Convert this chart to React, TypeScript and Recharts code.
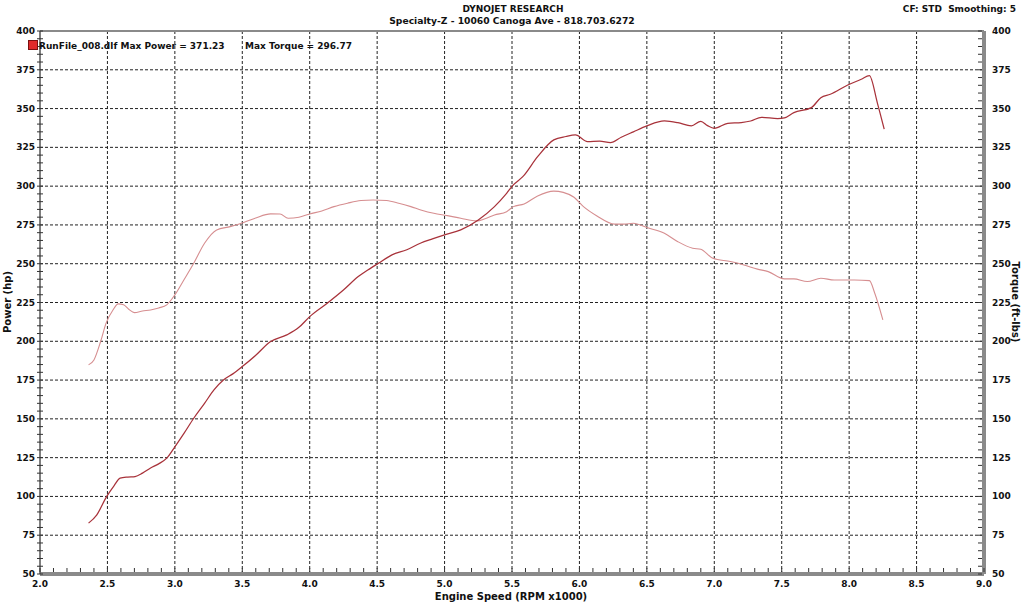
import React from 'react';
import { LineChart, Line, XAxis, YAxis, ReferenceLine } from 'recharts';

const rpmHp = [2.36,2.42,2.495,2.55,2.594,2.65,2.705,2.76,2.817,2.88,2.94,3.0,3.07,3.14,3.22,3.29,3.36,3.43,3.50,3.6,3.71,3.83,3.92,4.0,4.13,4.25,4.36,4.45,4.51,4.61,4.72,4.82,4.91,5.0,5.12,5.25,5.37,5.46,5.51,5.58,5.69,5.81,5.9,5.97,6.06,6.15,6.23,6.31,6.40,6.50,6.63,6.73,6.83,6.90,6.95,7.0,7.10,7.2,7.27,7.35,7.47,7.52,7.59,7.72,7.79,7.86,7.99,8.09,8.15,8.21,8.26];
const hpValues = [82.8,88,100,107,111.8,112.5,112.8,115,118.2,121,124.7,132,141,150.4,160,168.7,175.1,179,183.7,191,199.8,204.1,209,215.9,224.5,233,241.7,247,250.3,255.7,259,263.2,266,268.6,271.8,278.2,286.8,295.4,300.8,306.1,319,329.8,332,333,328.7,329,328,331.5,335,338.8,342,340.9,338.8,341.8,339,337.3,340.5,341,342,344.4,343.5,344,347.4,350.6,357,359.2,365.2,368.9,371.2,353.4,336.7];

const rpmTq = [2.36,2.40,2.45,2.49,2.54,2.58,2.62,2.66,2.70,2.76,2.82,2.88,2.94,3.0,3.07,3.14,3.22,3.31,3.41,3.51,3.6,3.71,3.78,3.84,3.92,4.0,4.09,4.18,4.28,4.38,4.47,4.57,4.66,4.75,4.83,4.92,5.02,5.12,5.24,5.30,5.37,5.46,5.51,5.59,5.69,5.81,5.88,5.96,6.03,6.13,6.26,6.33,6.40,6.50,6.63,6.73,6.84,6.90,6.99,7.12,7.22,7.32,7.40,7.52,7.59,7.69,7.79,7.89,8.04,8.15,8.19,8.25];
const tqValues = [184.8,188,200,211.7,220,224.1,223.5,220.5,218.5,219.5,220.2,221.5,223.5,229.9,240,250.3,263.2,271.8,273.9,276.5,279.5,282.1,282,279.3,280,282.1,284,286.8,289,290.7,291.1,290.7,289,286.8,284.5,282.5,281,279.3,277.6,279,281.4,283.5,286.8,288.5,293.7,296.8,296,292.8,286.8,280.8,275.5,275.5,276.1,273.3,269.6,264.2,260,259.3,253.5,251.4,249.2,246.5,244.9,240.2,240.2,238.5,240.6,239.5,239.5,239.1,231,213.8];

const xMinorTicks = Array.from({ length: 71 }, (_, i) => Math.round((2 + i * 0.1) * 10) / 10);
const xGridValues = [2.5, 3.0, 3.5, 4.0, 4.5, 5.0, 5.5, 6.0, 6.5, 7.0, 7.5, 8.0, 8.5];
const yMinorTicks = Array.from({ length: 71 }, (_, i) => 50 + i * 5);
const yGridValues = [75, 100, 125, 150, 175, 200, 225, 250, 275, 300, 325, 350, 375];

const titleText = 'DYNOJET RESEARCH';
const subtitleText = 'Specialty-Z - 10060 Canoga Ave - 818.703.6272';
const cornerText = 'CF: STD\u00a0\u00a0Smoothing: 5';
const legendRun = 'RunFile_008.dlf Max Power = 371.23';
const legendTorque = 'Max Torque = 296.77';
const xLabel = 'Engine Speed (RPM x1000)';
const yLeftLabel = 'Power (hp)';
const yRightLabel = 'Torque (ft-lbs)';

type Row = { rpm: number; hp?: number; tq?: number };
const tableMap = new Map<number, Row>();
rpmHp.forEach((r, i) => {
  const row = tableMap.get(r) || { rpm: r };
  row.hp = hpValues[i];
  tableMap.set(r, row);
});
rpmTq.forEach((r, i) => {
  const row = tableMap.get(r) || { rpm: r };
  row.tq = tqValues[i];
  tableMap.set(r, row);
});
const table = Array.from(tableMap.values()).sort((a, b) => a.rpm - b.rpm);

const FONT = '"DejaVu Sans", Verdana, sans-serif';

const XTick = (props: any) => {
  const { x, y, payload } = props;
  const v = payload.value as number;
  const major = Math.abs(v * 2 - Math.round(v * 2)) < 1e-6;
  return (
    <g>
      <line x1={x} x2={x} y1={y - 2} y2={y - 6} stroke="#333" strokeWidth={1} />
      {major && (
        <text x={x} y={y + 13} textAnchor="middle" fontFamily={FONT} fontWeight="bold" fontSize={9} fill="#111">
          {v.toFixed(1)}
        </text>
      )}
    </g>
  );
};

const YLeftTick = (props: any) => {
  const { x, y, payload } = props;
  const v = payload.value as number;
  return (
    <g>
      <line x1={x - 3} x2={x + 3} y1={y} y2={y} stroke="#333" strokeWidth={1} />
      {v % 25 === 0 && (
        <text x={x - 5} y={y + 3} textAnchor="end" fontFamily={FONT} fontWeight="bold" fontSize={9} fill="#111">
          {v}
        </text>
      )}
    </g>
  );
};

const YRightTick = (props: any) => {
  const { x, y, payload } = props;
  const v = payload.value as number;
  return (
    <g>
      <line x1={x - 2} x2={x - 6} y1={y} y2={y} stroke="#333" strokeWidth={1} />
      {v % 25 === 0 && (
        <text x={x + 8} y={y + 3} textAnchor="start" fontFamily={FONT} fontWeight="bold" fontSize={9} fill="#111">
          {v}
        </text>
      )}
    </g>
  );
};

export default function App() {
  return (
    <div style={{ position: 'absolute', left: 0, top: 0, width: 1024, height: 602, background: '#fff' }}>
      <LineChart width={1024} height={602} data={table} margin={{ top: 31, right: 0, bottom: 0, left: 0 }}>
        <XAxis
          type="number"
          dataKey="rpm"
          domain={[2, 9]}
          ticks={xMinorTicks}
          interval={0}
          height={28}
          tickSize={0}
          tickMargin={0}
          tickLine={false}
          tick={<XTick />}
          axisLine={{ stroke: '#8a8a8a', strokeWidth: 4 }}
          allowDataOverflow
        />
        <YAxis
          yAxisId="left"
          orientation="left"
          type="number"
          domain={[50, 400]}
          ticks={yMinorTicks}
          interval={0}
          width={40}
          tickSize={0}
          tickMargin={0}
          tickLine={false}
          tick={<YLeftTick />}
          axisLine={{ stroke: '#555', strokeWidth: 1.5 }}
          allowDataOverflow
        />
        <YAxis
          yAxisId="right"
          orientation="right"
          type="number"
          domain={[50, 400]}
          ticks={yMinorTicks}
          interval={0}
          width={40}
          tickSize={0}
          tickMargin={0}
          tickLine={false}
          tick={<YRightTick />}
          axisLine={{ stroke: '#8a8a8a', strokeWidth: 4 }}
          allowDataOverflow
        />
        {xGridValues.map((v) => (
          <ReferenceLine key={'gx' + v} x={v} yAxisId="left" stroke="#222" strokeWidth={1} strokeDasharray="3 2" />
        ))}
        {yGridValues.map((v) => (
          <ReferenceLine key={'gy' + v} y={v} yAxisId="left" stroke="#222" strokeWidth={1} strokeDasharray="3 2" />
        ))}
        <ReferenceLine y={400} yAxisId="left" stroke="#8a8a8a" strokeWidth={2} />
        <Line
          yAxisId="right"
          type="monotone"
          dataKey="tq"
          stroke="#d68e90"
          strokeWidth={1.1}
          dot={false}
          connectNulls
          isAnimationActive={false}
        />
        <Line
          yAxisId="left"
          type="monotone"
          dataKey="hp"
          stroke="#a8323a"
          strokeWidth={1.25}
          dot={false}
          connectNulls
          isAnimationActive={false}
        />
      </LineChart>
      <svg width={1024} height={602} style={{ position: 'absolute', left: 0, top: 0, pointerEvents: 'none' }}>
        <text x={513} y={12} textAnchor="middle" fontFamily={FONT} fontWeight="bold" fontSize={9} fill="#111">{titleText}</text>
        <text x={512} y={24} textAnchor="middle" fontFamily={FONT} fontWeight="bold" fontSize={9.2} fill="#111">{subtitleText}</text>
        <text x={1016} y={12} textAnchor="end" fontFamily={FONT} fontWeight="bold" fontSize={9} fill="#111">{cornerText}</text>
        <rect x={28.5} y={40.5} width={9} height={9} fill="#e02a2a" stroke="#7a1010" strokeWidth={1} />
        <text x={39} y={49} fontFamily={FONT} fontWeight="bold" fontSize={9} fill="#111">{legendRun}</text>
        <text x={245} y={49} fontFamily={FONT} fontWeight="bold" fontSize={9} fill="#111">{legendTorque}</text>
        <text x={511} y={600} textAnchor="middle" fontFamily={FONT} fontWeight="bold" fontSize={10} fill="#111">{xLabel}</text>
        <text x={0} y={0} transform="translate(11,302) rotate(-90)" textAnchor="middle" fontFamily={FONT} fontWeight="bold" fontSize={10} fill="#111">{yLeftLabel}</text>
        <text x={0} y={0} transform="translate(1012,302) rotate(90)" textAnchor="middle" fontFamily={FONT} fontWeight="bold" fontSize={10} fill="#111">{yRightLabel}</text>
      </svg>
    </div>
  );
}
